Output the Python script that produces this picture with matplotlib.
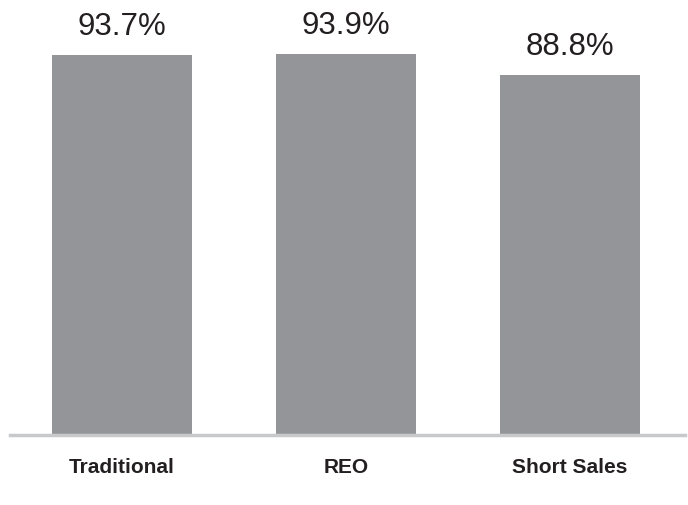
import matplotlib.pyplot as plt

categories = ['Traditional', 'REO', 'Short Sales']
values = [93.7, 93.9, 88.8]
value_labels = ['93.7%', '93.9%', '88.8%']

plt.rcParams['font.family'] = ['Liberation Sans', 'DejaVu Sans']

fig = plt.figure(figsize=(6.88, 5.06), dpi=100)
ax = fig.add_axes([10 / 688, 70 / 506, 675 / 688, 436 / 506])

x = range(len(categories))
bars = ax.bar(x, values, width=0.625, color='#939598', zorder=2)

for bar, label in zip(bars, value_labels):
    ax.annotate(label, (bar.get_x() + bar.get_width() / 2, bar.get_height()),
                xytext=(0, 10), textcoords='offset points',
                ha='center', va='bottom', fontsize=22.5, color='#231f20')

ax.set_xlim(-0.5, 2.513)
ax.set_ylim(0, 107.4)

# baseline only
for side in ['left', 'right', 'top']:
    ax.spines[side].set_visible(False)
ax.spines['bottom'].set_color('#c8c9cb')
ax.spines['bottom'].set_linewidth(2.5)

ax.set_yticks([])
ax.set_xticks(list(x))
ax.set_xticklabels(categories, fontsize=15, fontweight='bold', color='#231f20')
ax.tick_params(axis='x', length=0, pad=16)

fig.savefig('out.png', dpi=100)
